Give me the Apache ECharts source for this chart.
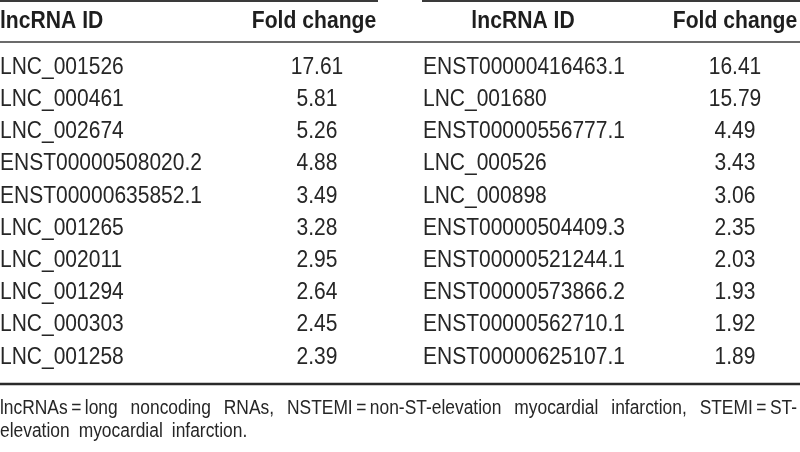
<!DOCTYPE html>
<html>
<head>
<meta charset="utf-8">
<script src="https://cdn.jsdelivr.net/npm/echarts@6/dist/echarts.min.js"></script>
<style>
html,body{margin:0;padding:0;background:#fff;}
#chart{width:800px;height:452px;}
</style>
</head>
<body>
<div id="chart"></div>
<script>
// ---- data ----
const headers = ['lncRNA ID', 'Fold change', 'lncRNA ID', 'Fold change'];
const leftIds = ['LNC_001526', 'LNC_000461', 'LNC_002674', 'ENST00000508020.2', 'ENST00000635852.1',
  'LNC_001265', 'LNC_002011', 'LNC_001294', 'LNC_000303', 'LNC_001258'];
const leftFold = [17.61, 5.81, 5.26, 4.88, 3.49, 3.28, 2.95, 2.64, 2.45, 2.39];
const rightIds = ['ENST00000416463.1', 'LNC_001680', 'ENST00000556777.1', 'LNC_000526', 'LNC_000898',
  'ENST00000504409.3', 'ENST00000521244.1', 'ENST00000573866.2', 'ENST00000562710.1', 'ENST00000625107.1'];
const rightFold = [16.41, 15.79, 4.49, 3.43, 3.06, 2.35, 2.03, 1.93, 1.92, 1.89];
const footLine1 = ['lncRNAs\u2009=\u2009long', 'noncoding', 'RNAs,', 'NSTEMI\u2009=\u2009non-ST-elevation', 'myocardial', 'infarction,', 'STEMI\u2009=\u2009ST-'];
const footLine2 = ['elevation', 'myocardial', 'infarction.'];

// ---- layout ----
const FONT = '"Liberation Sans", Arimo, Arial, sans-serif';
const TXT = '#262626';
const LINE = '#3a3a3a';
const COL = { leftId: 0, leftFold: 317, rightId: 423, rightFold: 735 };
const BODY_SIZE = 24, BODY_SX = 0.875;
const HEAD_SIZE = 24, HEAD_SX = 0.88;
const FOOT_SIZE = 20, FOOT_SX = 0.87;

const rows = leftIds.map((_, i) => String(i));

function textSeries(xPos, texts, align) {
  return {
    type: 'custom',
    silent: true,
    data: texts.map((t, i) => [xPos, i]),
    renderItem: function (params, api) {
      const p = api.coord([api.value(0), api.value(1)]);
      return {
        type: 'text',
        x: p[0], y: p[1],
        scaleX: BODY_SX, scaleY: 1,
        style: {
          text: String(texts[params.dataIndex]),
          textAlign: align,
          textVerticalAlign: 'middle',
          font: BODY_SIZE + 'px ' + FONT,
          fill: TXT
        }
      };
    }
  };
}

const ctx = document.createElement('canvas').getContext('2d');
function measure(w, size, sx) {
  ctx.font = size + 'px ' + FONT;
  return ctx.measureText(w).width * sx;
}
function wordEl(w, x, y, size, sx) {
  return { type: 'text', silent: true, x: x, y: y, scaleX: sx,
    style: { text: w, fill: TXT, font: size + 'px ' + FONT, textAlign: 'left', textVerticalAlign: 'middle' } };
}
function justify(words, y, width, size, sx) {
  const ws = words.map(w => measure(w, size, sx));
  const total = ws.reduce((a, b) => a + b, 0);
  const gap = (width - total) / (words.length - 1);
  let x = 0;
  return words.map((w, i) => { const el = wordEl(w, x, y, size, sx); x += ws[i] + gap; return el; });
}
function spaced(words, y, gap, size, sx) {
  let x = 0;
  return words.map(w => { const el = wordEl(w, x, y, size, sx); x += measure(w, size, sx) + gap; return el; });
}
function head(t, x, align) {
  return { type: 'text', silent: true, x: x, y: 21, scaleX: HEAD_SX,
    style: { text: t, font: 'bold ' + HEAD_SIZE + 'px ' + FONT, fill: '#1e1e1e', textAlign: align, textVerticalAlign: 'middle' } };
}

const chart = echarts.init(document.getElementById('chart'), null, { renderer: 'canvas' });
chart.setOption({
  animation: false,
  backgroundColor: '#fff',
  grid: { left: 0, right: 0, top: 51, height: 322 },
  xAxis: { type: 'value', min: 0, max: 800, show: false },
  yAxis: { type: 'category', data: rows, inverse: true, show: false },
  series: [
    textSeries(COL.leftId, leftIds, 'left'),
    textSeries(COL.leftFold, leftFold.map(v => v.toFixed(2)), 'center'),
    textSeries(COL.rightId, rightIds, 'left'),
    textSeries(COL.rightFold, rightFold.map(v => v.toFixed(2)), 'center')
  ],
  graphic: [
    { type: 'line', silent: true, shape: { x1: 0, y1: 1, x2: 378, y2: 1 }, style: { stroke: LINE, lineWidth: 2 } },
    { type: 'line', silent: true, shape: { x1: 422, y1: 1, x2: 800, y2: 1 }, style: { stroke: LINE, lineWidth: 2 } },
    { type: 'line', silent: true, shape: { x1: 0, y1: 42, x2: 800, y2: 42 }, style: { stroke: LINE, lineWidth: 1.5 } },
    { type: 'line', silent: true, shape: { x1: 0, y1: 384, x2: 800, y2: 384 }, style: { stroke: '#2a2a2a', lineWidth: 2.5 } },
    head(headers[0], 0, 'left'),
    head(headers[1], 314, 'center'),
    head(headers[2], 523, 'center'),
    head(headers[3], 735, 'center')
  ].concat(justify(footLine1, 408, 797, FOOT_SIZE, FOOT_SX))
   .concat(spaced(footLine2, 431, 9, FOOT_SIZE, FOOT_SX))
});
</script>
</body>
</html>
